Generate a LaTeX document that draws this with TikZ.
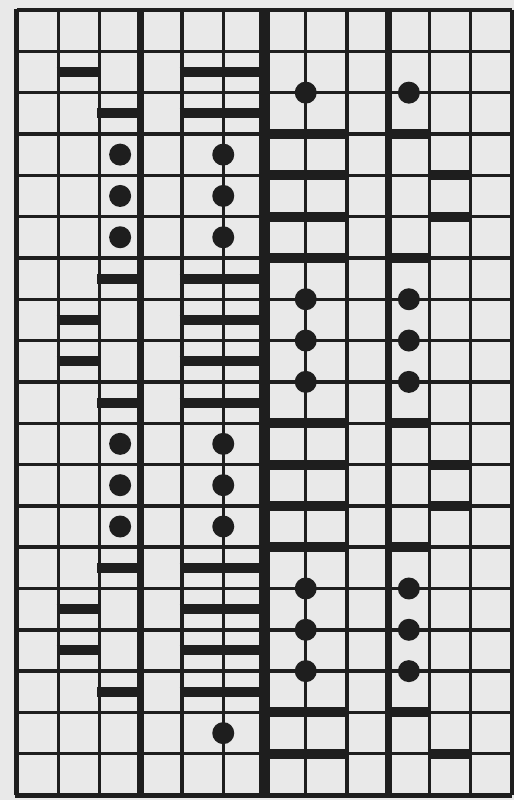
\documentclass[tikz,border=0pt]{standalone}
\usepackage{xcolor}
\definecolor{paper}{HTML}{E9E9E9}
\definecolor{ink}{HTML}{1E1E1E}
\begin{document}
\begin{tikzpicture}[x=41.25pt,y=-41.32pt,
  gridline/.style={draw=ink,line width=3.4pt},
  bar/.style={draw=ink,line width=10pt,line cap=butt},
  knot/.style={fill=ink}]
\path[fill=paper] (-0.4121,-0.2420) rectangle (12.0485,19.1191);
\useasboundingbox (-0.4121,-0.2420) rectangle (12.0485,19.1191);
% thin grid
\foreach \i in {1,2,4,5,7,8,10,11} \draw[gridline] (\i,0) -- (\i,19);
\foreach \j in {1,...,18} \draw[gridline] (0,\j) -- (12,\j);
% borders
\draw[gridline,line width=4pt] (0,0) -- (12,0);
\draw[gridline,line width=4pt] (12,0) -- (12,19);
\draw[gridline,line width=5pt] (0,-0.02) -- (0,19);
\draw[gridline,line width=5pt] (-0.06,19) -- (12,19);
% heavy verticals
\draw[gridline,line width=7pt] (3,0) -- (3,19);
\draw[gridline,line width=11pt] (6,0) -- (6,19);
\draw[gridline,line width=7pt] (9,0) -- (9,19);
% left bars (cell centres)
\foreach \r in {2,8,9,15,16} \draw[bar] (0.96,\r-0.5) -- (2,\r-0.5);
\foreach \r in {3,7,10,14,17} \draw[bar] (1.94,\r-0.5) -- (3,\r-0.5);
\foreach \r in {2,3,7,8,9,10,14,15,16,17} \draw[bar] (3.94,\r-0.5) -- (6,\r-0.5);
% left knots
\foreach \r in {4,5,6,11,12,13} {
  \fill[knot] (2.5,\r-0.5) circle (11pt);
  \fill[knot] (5,\r-0.5) circle (11pt);
}
\fill[knot] (5,17.5) circle (11pt);
% right bars (on grid lines)
\foreach \j in {3,4,5,6,10,11,12,13,17,18} \draw[bar] (6,\j) -- (8.04,\j);
\foreach \j in {3,6,10,13,17} \draw[bar] (8.94,\j) -- (10,\j);
\foreach \j in {4,5,11,12,18} \draw[bar] (9.96,\j) -- (11.02,\j);
% right knots
\foreach \j in {2,7,8,9,14,15,16} {
  \fill[knot] (7,\j) circle (11pt);
  \fill[knot] (9.5,\j) circle (11pt);
}
\end{tikzpicture}
\end{document}
